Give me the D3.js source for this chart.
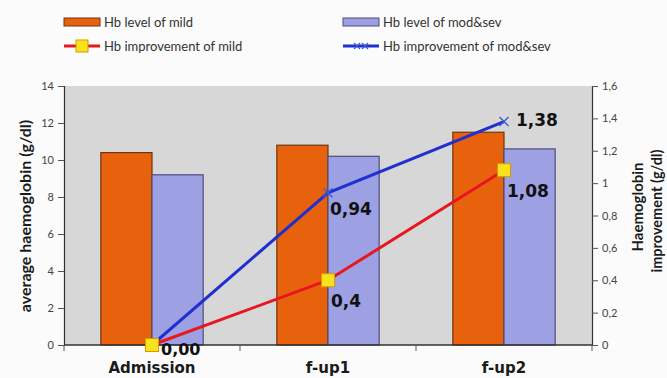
<!DOCTYPE html>
<html>
<head>
<meta charset="utf-8">
<script src="https://cdn.jsdelivr.net/npm/d3@7/dist/d3.min.js"></script>
<style>
  html, body { margin: 0; padding: 0; background: #fbfbfb; }
  svg { display: block; font-family: Lato, "Open Sans", sans-serif; }
</style>
</head>
<body>
<svg id="chart" width="667" height="378"></svg>
<script>
// Stages of follow-up
const categories = ["Admission", "f-up1", "f-up2"];
// Average haemoglobin level (g/dl)
const hbLevelMild = [10.4, 10.8, 11.5];
const hbLevelModSev = [9.2, 10.2, 10.6];
// Haemoglobin improvement (g/dl)
const hbImproveMild = [0, 0.4, 1.08];
const hbImproveModSev = [0, 0.94, 1.38];
// Axis ticks
const leftTicks = [0, 2, 4, 6, 8, 10, 12, 14];
const rightTicks = [0, 0.2, 0.4, 0.6, 0.8, 1, 1.2, 1.4, 1.6];

const svg = d3.select("#chart");
const plot = { left: 64, right: 592, top: 86, bottom: 345 };
const boldFont = "'DejaVu Sans', sans-serif";

const x = d3.scaleBand().domain(categories).range([plot.left, plot.right]).paddingInner(0).paddingOuter(0);
const xSub = d3.scaleBand().domain(["mild", "modsev"]).range([0, x.bandwidth()]).paddingInner(0).paddingOuter(0.72);
const yL = d3.scaleLinear().domain([0, 14]).range([plot.bottom, plot.top]);
const yR = d3.scaleLinear().domain([0, 1.6]).range([plot.bottom, plot.top]);
const comma = v => String(v).replace(".", ",");

// plot background
svg.append("rect")
  .attr("x", plot.left).attr("y", plot.top)
  .attr("width", plot.right - plot.left).attr("height", plot.bottom - plot.top)
  .attr("fill", "#d7d7d7");

// bars
const barSeries = [
  { key: "mild", values: hbLevelMild, fill: "#e8620d", stroke: "#6e3412" },
  { key: "modsev", values: hbLevelModSev, fill: "#9da0e2", stroke: "#4d4f7e" }
];
barSeries.forEach(s => {
  svg.append("g").selectAll("rect")
    .data(s.values)
    .join("rect")
    .attr("x", (d, i) => x(categories[i]) + xSub(s.key))
    .attr("y", d => yL(d))
    .attr("width", xSub.bandwidth())
    .attr("height", d => yL(0) - yL(d))
    .attr("fill", s.fill)
    .attr("stroke", s.stroke)
    .attr("stroke-width", 1.2);
});

// left axis
const axL = svg.append("g")
  .attr("transform", `translate(${plot.left},0)`)
  .call(d3.axisLeft(yL).tickValues(leftTicks).tickSize(6).tickPadding(4).tickFormat(d3.format("d")));
axL.select(".domain").attr("stroke", "#333").attr("stroke-width", 1.2);
axL.selectAll(".tick line").attr("stroke", "#555");
axL.selectAll("text").attr("font-size", 11).attr("fill", "#444").attr("font-family", "Lato, sans-serif");

// right axis
const axR = svg.append("g")
  .attr("transform", `translate(${plot.right},0)`)
  .call(d3.axisRight(yR).tickValues(rightTicks).tickSize(6).tickPadding(4).tickFormat(d => comma(d3.format("~g")(d))));
axR.select(".domain").attr("stroke", "#333").attr("stroke-width", 1.2);
axR.selectAll(".tick line").attr("stroke", "#555");
axR.selectAll("text").attr("font-size", 11).attr("fill", "#444").attr("font-family", "Lato, sans-serif");

// bottom axis: ticks at category boundaries
const bounds = categories.map(c => x(c)).concat([plot.right]);
svg.append("line")
  .attr("x1", plot.left).attr("x2", plot.right)
  .attr("y1", plot.bottom).attr("y2", plot.bottom)
  .attr("stroke", "#333").attr("stroke-width", 1.4);
svg.append("g").selectAll("line").data(bounds).join("line")
  .attr("x1", d => d).attr("x2", d => d)
  .attr("y1", plot.bottom).attr("y2", plot.bottom + 6)
  .attr("stroke", "#555");
svg.append("g").selectAll("text").data(categories).join("text")
  .attr("x", d => x(d) + x.bandwidth() / 2)
  .attr("y", 373)
  .attr("text-anchor", "middle")
  .attr("font-family", boldFont)
  .attr("font-size", 15).attr("font-weight", "bold").attr("fill", "#1a1a1a")
  .text(d => d);

// improvement lines
const cx = c => x(c) + x.bandwidth() / 2;
const lineGen = vals => d3.line().x((d, i) => cx(categories[i])).y(d => yR(d))(vals);

svg.append("path").attr("d", lineGen(hbImproveModSev))
  .attr("fill", "none").attr("stroke", "#1f2fd0").attr("stroke-width", 3);
svg.append("path").attr("d", lineGen(hbImproveMild))
  .attr("fill", "none").attr("stroke", "#e8161e").attr("stroke-width", 3);

// cross markers (mod&sev)
const crossG = svg.append("g");
hbImproveModSev.forEach((v, i) => {
  const px = cx(categories[i]), py = yR(v), r = 4.5;
  crossG.append("path")
    .attr("d", `M${px - r},${py - r}L${px + r},${py + r}M${px - r},${py + r}L${px + r},${py - r}`)
    .attr("stroke", "#3a5ad8").attr("stroke-width", 1.4).attr("fill", "none");
});

// square markers (mild)
svg.append("g").selectAll("rect").data(hbImproveMild).join("rect")
  .attr("x", (d, i) => cx(categories[i]) - 6.5)
  .attr("y", d => yR(d) - 6.5)
  .attr("width", 13).attr("height", 13)
  .attr("fill", "#f7e21c").attr("stroke", "#d69a00").attr("stroke-width", 1);

// value labels
const labelG = svg.append("g").attr("font-family", boldFont)
  .attr("font-size", 17).attr("font-weight", "bold").attr("fill", "#111");
// shared zero at admission
labelG.append("text").attr("x", cx(categories[0]) + 9).attr("y", yR(0) + 10)
  .attr("font-size", 16).text("0,00");
hbImproveMild.forEach((v, i) => {
  if (i === 0) return;
  labelG.append("text").attr("x", cx(categories[i]) + 3).attr("y", yR(v) + 27).text(comma(v));
});
hbImproveModSev.forEach((v, i) => {
  if (i === 0) return;
  const last = i === categories.length - 1;
  labelG.append("text")
    .attr("x", cx(categories[i]) + (last ? 12 : 2))
    .attr("y", yR(v) + (last ? 4 : 22))
    .text(comma(v));
});

// axis titles
svg.append("text")
  .attr("transform", "translate(31,216) rotate(-90)")
  .attr("text-anchor", "middle")
  .attr("font-size", 16).attr("font-weight", "bold").attr("fill", "#1a1a1a")
  .text("average haemoglobin (g/dl)");
svg.append("text")
  .attr("transform", "translate(643,207) rotate(-90)")
  .attr("text-anchor", "middle")
  .attr("font-size", 15).attr("font-weight", "bold").attr("fill", "#1a1a1a")
  .text("Haemoglobin");
svg.append("text")
  .attr("transform", "translate(662,211) rotate(-90)")
  .attr("text-anchor", "middle")
  .attr("font-size", 14.5).attr("font-weight", "bold").attr("fill", "#1a1a1a")
  .text("improvement (g/dl)");

// legend
const legend = svg.append("g").attr("font-size", 13).attr("fill", "#333");
const legendItems = [
  { label: "Hb level of mild", type: "bar", fill: "#e8620d", stroke: "#6e3412", x: 64, y: 22 },
  { label: "Hb level of mod&sev", type: "bar", fill: "#9da0e2", stroke: "#4d4f7e", x: 343, y: 22 },
  { label: "Hb improvement of mild", type: "square", stroke: "#e8161e", x: 64, y: 46 },
  { label: "Hb improvement of mod&sev", type: "cross", stroke: "#1f2fd0", x: 343, y: 46 }
];
legendItems.forEach(it => {
  const g = legend.append("g").attr("transform", `translate(${it.x},${it.y})`);
  if (it.type === "bar") {
    g.append("rect").attr("x", 0).attr("y", -4).attr("width", 36).attr("height", 8)
      .attr("fill", it.fill).attr("stroke", it.stroke).attr("stroke-width", 1);
  } else {
    g.append("line").attr("x1", 0).attr("x2", 36).attr("y1", 0).attr("y2", 0)
      .attr("stroke", it.stroke).attr("stroke-width", 3);
    if (it.type === "square") {
      g.append("rect").attr("x", 12).attr("y", -6).attr("width", 12).attr("height", 12)
        .attr("fill", "#f7e21c").attr("stroke", "#d69a00");
    } else {
      [14, 22].forEach(mx => g.append("path")
        .attr("d", `M${mx - 3},-3L${mx + 3},3M${mx - 3},3L${mx + 3},-3`)
        .attr("stroke", "#3a5ad8").attr("stroke-width", 1.2));
    }
  }
  g.append("text").attr("x", 40).attr("y", 0).attr("dy", "0.35em").text(it.label);
});
</script>
</body>
</html>
